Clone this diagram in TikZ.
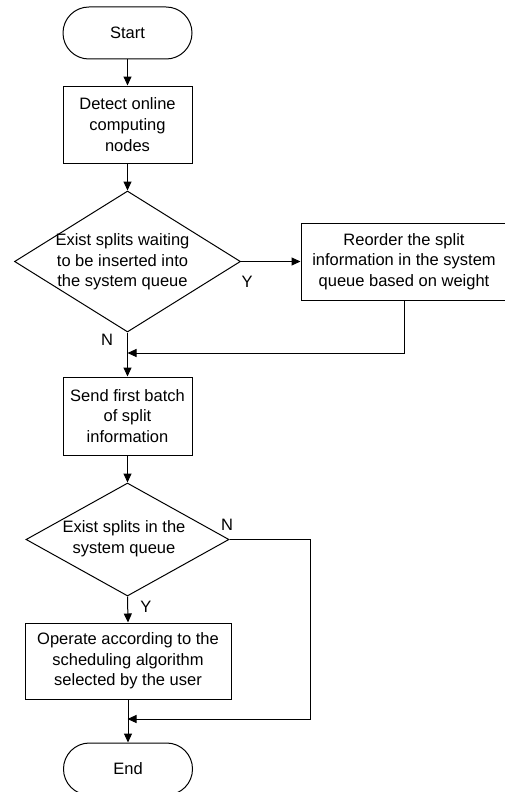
\documentclass[tikz,border=0pt]{standalone}
\usepackage{fontspec}
\setmainfont{Liberation Sans}
\usetikzlibrary{shapes.geometric,arrows.meta}
\begin{document}
\begin{tikzpicture}[x=1pt,y=-1pt,
  line width=1pt,
  every node/.style={font=\fontsize{16.5}{20.7}\selectfont},
  terminal/.style={draw, rectangle, rounded corners=25.9pt, minimum width=129pt, minimum height=52pt, inner sep=0pt},
  procbox/.style={draw, rectangle, minimum height=77pt, inner sep=0pt, align=center},
  decision/.style={draw, diamond, inner sep=0pt},
  txt/.style={align=center, inner sep=0pt},
  lbl/.style={inner sep=0pt},
  flow/.style={-{Triangle[length=9pt,width=8pt]}}
]
\useasboundingbox (0,0) rectangle (505,792);
\clip (0,0) rectangle (505,792);

% main column
\node[terminal] (start) at (127.5,33) {Start};
\node[procbox, minimum width=129pt] (detect) at (127.5,124.5) {Detect online\\computing\\nodes};
\node[decision, minimum width=226pt, minimum height=141pt] (d1) at (127.5,261.5) {};
\node[txt] (d1t) at (122.5,262) {Exist splits waiting\\to be inserted into\\the system queue};
\node[procbox, minimum width=206pt] (reorder) at (404,261.5) {Reorder the split\\information in the system\\queue based on weight};
\node[procbox, minimum width=129pt, minimum height=78pt] (send) at (127.5,416) {Send first batch\\of split\\information};
\node[decision, minimum width=203pt, minimum height=113pt] (d2) at (127.5,539.5) {};
\node[txt] (d2t) at (124,539) {Exist splits in the\\system queue};
\node[procbox, minimum width=206pt, minimum height=76pt] (operate) at (128,661) {Operate according to the\\scheduling algorithm\\selected by the user};
\node[terminal] (end) at (128,769) {End};

% branch labels
\node[lbl] (y1) at (247,282) {Y};
\node[lbl] (n1) at (107,340) {N};
\node[lbl] (n2) at (227,525) {N};
\node[lbl] (y2) at (146,607) {Y};

% junction points
\coordinate (j1) at (127.5,353);
\coordinate (j2) at (127.5,719);
\coordinate (c1) at (reorder.south |- j1);
\coordinate (c2) at (310,539.5);
\coordinate (c3) at (310,719);

% connectors
\draw[flow] (start) -- (detect);
\draw[flow] (detect) -- (d1.north);
\draw[flow] (d1.east) -- (reorder.west);
\draw[flow] (d1.south) -- (send.north);
\draw[flow] (reorder.south) -- (c1) -- (j1);
\draw[flow] (send) -- (d2.north);
\draw[flow] (d2.south) -- (operate.north);
\draw[flow] (d2.east) -- (c2) -- (c3) -- (j2);
\draw[flow] (operate) -- (end);
\end{tikzpicture}
\end{document}
